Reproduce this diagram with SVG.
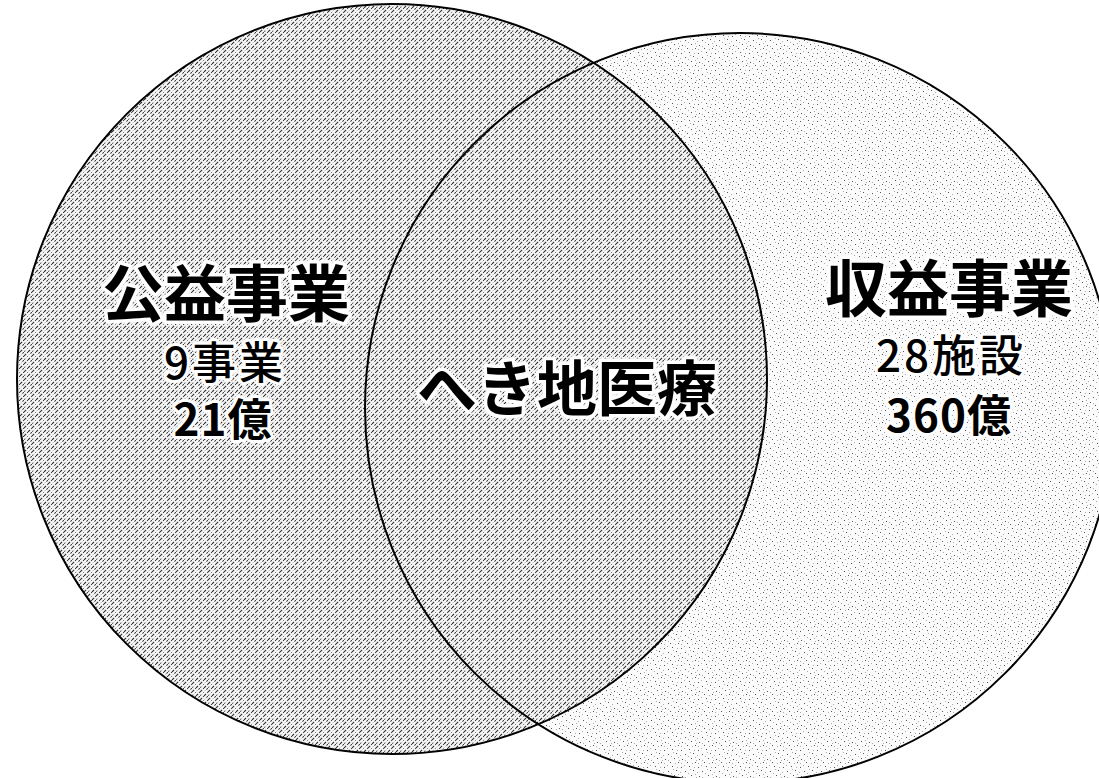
<svg xmlns="http://www.w3.org/2000/svg" width="1099" height="778" viewBox="0 0 1099 778">
  <defs>
    <pattern id="hatch" patternUnits="userSpaceOnUse" width="8" height="8">
      <rect width="8" height="8" fill="#f6f6f6"/>
      <path d="M0,4 L4,0 M4,8 L8,4 M-1,9 L1,7 M7,1 L9,-1" stroke="#333" stroke-width="1.1" stroke-dasharray="3 1.5"/>
      <path d="M0,8 L8,0" stroke="#777" stroke-width="0.9" stroke-dasharray="2 2"/>
    </pattern>
    <pattern id="speckle" patternUnits="userSpaceOnUse" width="17" height="17">
      <rect width="17" height="17" fill="#fbfbfb"/>
      <g fill="#555">
        <rect x="1" y="2" width="1" height="1"/>
        <rect x="9" y="1" width="1" height="1"/>
        <rect x="5" y="6" width="1" height="1"/>
        <rect x="13" y="5" width="1" height="1"/>
        <rect x="2" y="11" width="1" height="1"/>
        <rect x="11" y="10" width="1" height="1"/>
        <rect x="7" y="14" width="1" height="1"/>
        <rect x="15" y="14" width="1" height="1"/>
      </g>
      <g fill="#aaa">
        <rect x="4" y="0" width="1" height="1"/>
        <rect x="14" y="2" width="1" height="1"/>
        <rect x="0" y="7" width="1" height="1"/>
        <rect x="8" y="8" width="1" height="1"/>
        <rect x="15" y="9" width="1" height="1"/>
        <rect x="5" y="12" width="1" height="1"/>
        <rect x="12" y="15" width="1" height="1"/>
        <rect x="1" y="15" width="1" height="1"/>
        <rect x="10" y="4" width="1" height="1"/>
        <rect x="16" y="12" width="1" height="1"/>
      </g>
    </pattern>
    <style>
      .ring { fill: none; stroke: #000; stroke-width: 2; }
      .t { font-family: "Noto Sans CJK JP", "Noto Sans CJK SC", sans-serif; fill: #000; stroke: #fff; stroke-linejoin: round; paint-order: stroke; text-anchor: middle; }
      .big { font-size: 62px; font-weight: 700; stroke-width: 7; }
      .mid { font-size: 44px; font-weight: 500; stroke-width: 6; letter-spacing: 3px; }
      .midb { font-size: 44px; font-weight: 700; stroke-width: 6; letter-spacing: 1px; }
    </style>
  </defs>
  <rect width="1099" height="778" fill="#fff"/>
  <g id="fills">
    <circle cx="740" cy="408" r="375" fill="url(#speckle)"/>
    <circle cx="392" cy="379" r="375" fill="url(#hatch)"/>
  </g>
  <g id="outlines">
    <circle class="ring" cx="740" cy="408" r="375"/>
    <circle class="ring" cx="392" cy="379" r="375"/>
  </g>
  <g id="node-public">
    <text class="t big" x="226" y="317">公益事業</text>
    <text class="t mid" x="225" y="379">9事業</text>
    <text class="t midb" x="223" y="436">21億</text>
  </g>
  <g id="node-profit">
    <text class="t big" x="949" y="312">収益事業</text>
    <text class="t mid" x="951" y="372">28施設</text>
    <text class="t midb" x="949" y="432">360億</text>
  </g>
  <g id="node-overlap">
    <text class="t big" x="567" y="411" style="font-size:60px">へき地医療</text>
  </g>
</svg>
